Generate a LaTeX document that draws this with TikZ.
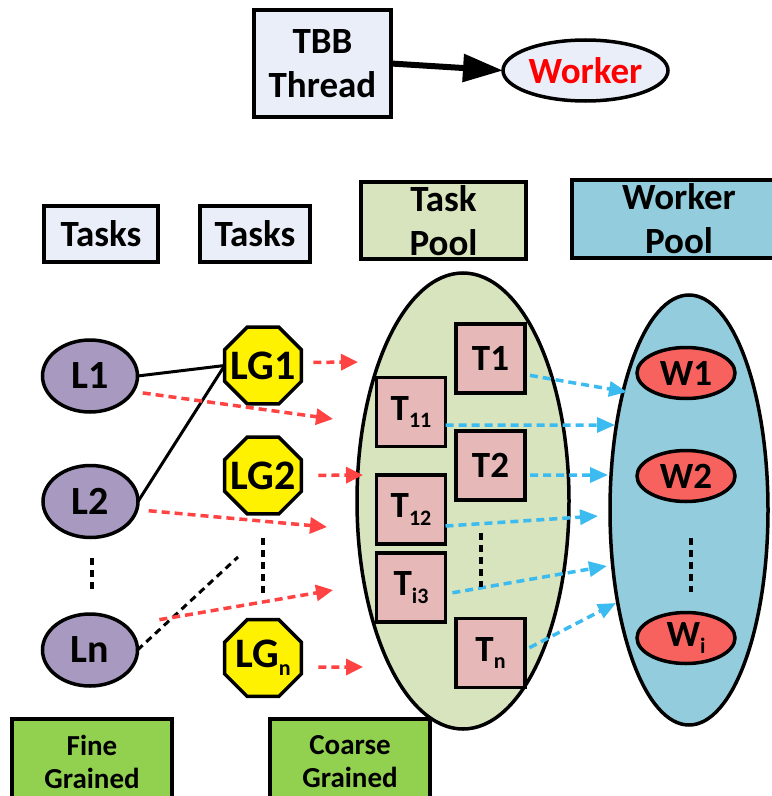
\documentclass[tikz,border=0pt]{standalone}
\usepackage{fontspec}
\setmainfont{Carlito}
\usetikzlibrary{arrows.meta,shapes.geometric}

\definecolor{paleblue}{HTML}{E9EEF8}
\definecolor{poolgreen}{HTML}{D7E4BD}
\definecolor{poolblue}{HTML}{93CDDD}
\definecolor{taskpink}{HTML}{E6B9B8}
\definecolor{workred}{HTML}{F8625E}
\definecolor{lpurple}{HTML}{A899C1}
\definecolor{grain}{HTML}{92D050}
\definecolor{redarrow}{HTML}{FF4343}
\definecolor{bluearrow}{HTML}{3BBBEF}
\definecolor{workertext}{HTML}{FF0000}

\newcommand{\fsz}[2]{\fontsize{#1bp}{#2bp}\selectfont}
\newcommand{\lowsub}[1]{\raisebox{-0.2em}{\fontsize{22bp}{22bp}\selectfont #1}}

\begin{document}
\begin{tikzpicture}[x=1bp,y=-1bp,
  every node/.style={inner sep=0pt, outer sep=0pt},
  frame/.style={draw, line width=3.5bp},
  lbl/.style={font=\fsz{37}{44}\bfseries, align=center},
  rectbox/.style={frame, lbl, rectangle},
  taskbox/.style={rectbox, fill=taskpink, minimum width=69bp, minimum height=69bp},
  workbox/.style={frame, lbl, ellipse, fill=workred, minimum width=98bp, minimum height=51bp},
  leafnode/.style={frame, ellipse, fill=lpurple, minimum width=95bp, minimum height=72bp, font=\fsz{40}{48}\bfseries},
  groupnode/.style={frame, regular polygon, regular polygon sides=8, fill=yellow, minimum size=83bp, font=\fsz{42}{50}\bfseries},
  grainbox/.style={frame, rectangle, fill=grain, minimum width=160bp, minimum height=86bp, font=\fsz{29}{33}\bfseries, align=center},
  redarr/.style={draw=redarrow, line width=3.5bp, dash pattern=on 8bp off 5bp, -{Triangle[length=17bp,width=16bp]}},
  bluearr/.style={draw=bluearrow, line width=3.5bp, dash pattern=on 8bp off 5bp, -{Triangle[length=18bp,width=15bp]}},
  ellipsis/.style={draw, line width=3.5bp, dash pattern=on 7bp off 5bp},
  link/.style={draw, line width=3bp}]

\path[use as bounding box, clip] (0,0) rectangle (772,796);

% legend: thread and worker
\node[rectbox, fill=paleblue, minimum width=137bp, minimum height=107bp] (tbb) at (322.5,63.5) {TBB\\Thread};
\node[frame, ellipse, fill=paleblue, minimum width=165bp, minimum height=61bp, lbl, text=workertext] (worker) at (585.5,70.5) {Worker};
\draw[line width=6bp, -{Triangle[length=40bp,width=27bp]}] (tbb.east) -- (worker.west);

% column headers
\node[rectbox, fill=paleblue, minimum width=114bp, minimum height=56bp] (tasksA) at (101,234) {Tasks};
\node[rectbox, fill=paleblue, minimum width=110bp, minimum height=56bp] (tasksB) at (255,234) {Tasks};
\node[rectbox, fill=poolgreen, minimum width=165bp, minimum height=77bp] (taskhead) at (443.5,220.5) {Task\\Pool};
\node[rectbox, fill=poolblue, minimum width=214bp, minimum height=78bp] (workhead) at (679,219) {Worker\\Pool};

% pools
\node[frame, ellipse, fill=poolgreen, minimum width=212bp, minimum height=456bp] (taskpool) at (463,501) {};
\node[frame, ellipse, fill=poolblue, minimum width=158bp, minimum height=430bp] (workpool) at (689,510) {};

% tasks in the pool
\node[taskbox] (T1)  at (490.5,358.5) {T1};
\node[taskbox] (T11) at (411,412) {T\lowsub{11}};
\node[taskbox] (T2)  at (490.5,465.5) {T2};
\node[taskbox] (T12) at (411,509.5) {T\lowsub{12}};
\node[taskbox] (Ti3) at (411,587.5) {T\lowsub{i3}};
\node[taskbox] (Tn)  at (490.5,653) {T\lowsub{n}};

% workers
\node[workbox] (W1) at (686,373) {W1};
\node[workbox] (W2) at (686,476) {W2};
\node[workbox] (Wi) at (686,638) {W\lowsub{i}};

% fine grained tasks
\node[leafnode] (L1) at (90,376) {L1};
\node[leafnode] (L2) at (90.5,501.5) {L2};
\node[leafnode] (Ln) at (90,650) {Ln};

% coarse grained groups (label may spill over the outline)
\node[groupnode] (LG1) at (263,365.5) {\makebox[0pt]{LG1}};
\node[groupnode] (LG2) at (263,475.5) {\makebox[0pt]{LG2}};
\node[groupnode] (LGn) at (263,658) {\makebox[0pt]{LG\lowsub{n}}};

% arrow targets
\coordinate (r1) at (358,362);
\coordinate (r2) at (333,419);
\coordinate (r3) at (363,475);
\coordinate (r4) at (327,527);
\coordinate (r5) at (333,590);
\coordinate (r6) at (363,667);
\coordinate (b1) at (627,392);
\coordinate (b2) at (615,425);
\coordinate (b3) at (608,475);
\coordinate (b4) at (598,516);
\coordinate (b5) at (607,566);
\coordinate (b6) at (616,603);
\coordinate (lnend) at (238,557);

% grouping links
\draw[link] (L1.east) -- (LG1.west);
\draw[link] (L2.east) -- (LG1.west);
\draw[ellipsis, line width=3bp] (Ln.east) -- (lnend);

% submissions to the task pool
\draw[redarr, shorten <=12bp] ([yshift=3bp]LG1.east) -- (r1);
\draw[redarr, shorten <=10bp] (L1.-20) -- (r2);
\draw[redarr, shorten <=17bp] (LG2.east) -- (r3);
\draw[redarr, shorten <=12bp] (L2.-10) -- (r4);
\draw[redarr, shorten <=35bp] (Ln.35) -- (r5);
\draw[redarr, shorten <=17bp] ([yshift=-9bp]LGn.east) -- (r6);

% dispatch to workers
\draw[bluearr, shorten <=5bp] ([yshift=-16bp]T1.east) -- (b1);
\draw[bluearr] ([yshift=-13bp]T11.east) -- (b2);
\draw[bluearr, shorten <=5bp] ([yshift=-9.5bp]T2.east) -- (b3);
\draw[bluearr] ([yshift=-16.5bp]T12.east) -- (b4);
\draw[bluearr, shorten <=7bp] ([yshift=-6.5bp]Ti3.east) -- (b5);
\draw[bluearr, shorten <=5bp] ([yshift=3bp]Tn.east) -- (b6);

% vertical ellipses
\draw[ellipsis] (92,558) -- (92,590);
\draw[ellipsis] (263,538) -- (263,593);
\draw[ellipsis] (481,533) -- (481,587);
\draw[ellipsis] (691,538) -- (691,592);

% granularity labels
\node[grainbox] (fine) at (92,762) {Fine\\Grained};
\node[grainbox] (coarse) at (350,762) {Coarse\\Grained};
\end{tikzpicture}
\end{document}
